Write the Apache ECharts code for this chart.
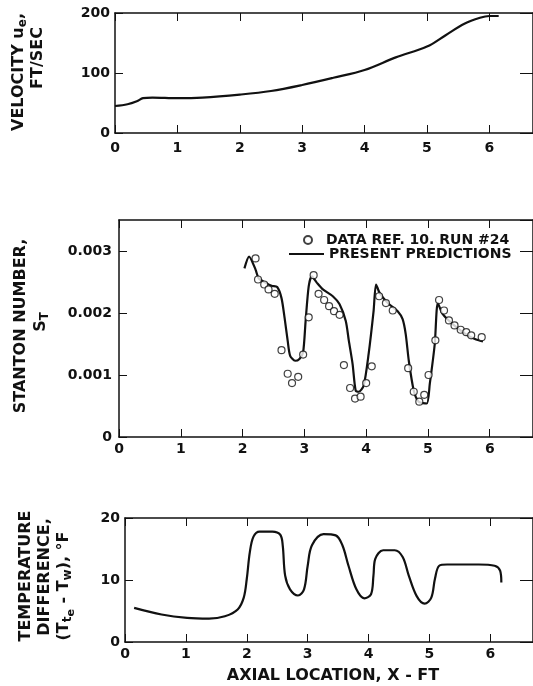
<!DOCTYPE html>
<html><head><meta charset="utf-8">
<script src="https://cdn.jsdelivr.net/npm/echarts@6/dist/echarts.min.js"></script>
<style>html,body{margin:0;padding:0;background:#fff}#c{width:533px;height:686px}</style>
</head><body><div id="c"></div>
<script>
// ---- data ----
const xTicks = [0, 1, 2, 3, 4, 5, 6];
const velX = [0, 0.2, 0.35, 0.45, 0.6, 1.0, 1.4, 2.0, 2.5, 3.0, 3.5, 4.0, 4.5, 5.0, 5.3, 5.6, 5.85, 6.0, 6.15];
const velY = [45, 48, 53, 58, 59, 58, 59, 64, 70, 80, 92, 105, 126, 144, 163, 182, 192, 195, 195];

const predX = [2.03, 2.105, 2.21, 2.26, 2.37, 2.47, 2.56, 2.63, 2.68, 2.73, 2.77, 2.85, 2.92, 2.98, 3.02, 3.07, 3.12, 3.20, 3.30, 3.46, 3.57, 3.67, 3.72, 3.78, 3.83, 3.88, 3.96, 4.04, 4.12, 4.16, 4.22, 4.35, 4.51, 4.59, 4.64, 4.69, 4.77, 4.85, 4.98, 5.03, 5.11, 5.16, 5.24, 5.40, 5.61, 5.76, 5.89];
const predY = [0.00272, 0.00291, 0.00270, 0.00256, 0.00249, 0.00244, 0.00242, 0.00224, 0.00192, 0.00155, 0.00131, 0.00123, 0.00126, 0.00137, 0.00187, 0.00243, 0.00259, 0.00249, 0.00238, 0.00227, 0.00214, 0.00187, 0.00155, 0.00118, 0.00075, 0.00073, 0.00083, 0.00134, 0.00203, 0.00246, 0.00232, 0.00216, 0.00203, 0.00190, 0.00166, 0.00123, 0.00075, 0.00057, 0.00054, 0.00086, 0.00150, 0.00216, 0.00198, 0.00182, 0.00166, 0.00158, 0.00154];

const dataX = [2.21, 2.25, 2.35, 2.42, 2.52, 2.63, 2.73, 2.80, 2.90, 2.98, 3.07, 3.15, 3.23, 3.32, 3.40, 3.48, 3.57, 3.64, 3.74, 3.82, 3.91, 4.00, 4.09, 4.21, 4.32, 4.43, 4.68, 4.77, 4.86, 4.94, 5.01, 5.12, 5.18, 5.26, 5.34, 5.43, 5.53, 5.62, 5.70, 5.87];
const dataY = [0.00288, 0.00254, 0.00246, 0.00238, 0.00231, 0.00140, 0.00102, 0.00087, 0.00097, 0.00133, 0.00193, 0.00261, 0.00231, 0.00221, 0.00211, 0.00203, 0.00197, 0.00116, 0.00079, 0.00062, 0.00065, 0.00087, 0.00114, 0.00227, 0.00216, 0.00204, 0.00111, 0.00073, 0.00057, 0.00068, 0.00100, 0.00156, 0.00221, 0.00204, 0.00188, 0.00180, 0.00173, 0.00169, 0.00164, 0.00161];

const tempX = [0.15, 0.60, 1.02, 1.38, 1.64, 1.85, 1.95, 2.0, 2.05, 2.11, 2.21, 2.42, 2.55, 2.59, 2.63, 2.71, 2.84, 2.94, 3.0, 3.07, 3.26, 3.46, 3.57, 3.67, 3.80, 3.93, 4.04, 4.08, 4.11, 4.24, 4.43, 4.56, 4.66, 4.79, 4.92, 5.03, 5.09, 5.16, 5.29, 5.81, 6.07, 6.16, 6.18];
const tempY = [5.5, 4.43, 3.88, 3.77, 4.15, 5.25, 7.16, 10.2, 14.5, 17.0, 17.8, 17.8, 17.3, 15.6, 10.7, 8.5, 7.5, 8.5, 12.3, 15.6, 17.4, 17.2, 15.6, 12.3, 8.5, 7.05, 7.7, 10.7, 13.4, 14.8, 14.8, 13.7, 10.7, 7.4, 6.18, 7.16, 10.2, 12.3, 12.5, 12.5, 12.3, 11.5, 9.6];

const velTicks = [0, 100, 200];
const stTicks = [0, 0.001, 0.002, 0.003];
const tempTicks = [0, 10, 20];
const seriesNames = ['DATA REF. 10. RUN #24', 'PRESENT PREDICTIONS'];

// ---- chart ----
const ink = '#111';
const FONT = '"DejaVu Sans", sans-serif';
const zip = (a, b) => a.map((v, i) => [v, b[i]]);
const XMAX = 6.7;

const grids = [
  {left: 115, top: 13, width: XMAX * 62.6, height: 120},
  {left: 119, top: 220, width: XMAX * 63.8, height: 217},
  {left: 125, top: 518, width: XMAX * 64, height: 124}
];

const xAxes = [], yAxes = [];
const yCfg = [
  {max: 200, interval: 100, margin: 5},
  {max: 0.0035, interval: 0.001, margin: 7},
  {max: 20, interval: 10, margin: 5}
];
const xMargins = [8, 5, 5];
grids.forEach((g, i) => {
  xAxes.push({
    type: 'value', gridIndex: i, min: 0, max: XMAX, interval: 1, position: 'bottom',
    axisLine: {show: true, onZero: false, lineStyle: {color: ink, width: 1.5}},
    axisTick: {inside: true, length: 8, lineStyle: {color: ink, width: 1}},
    axisLabel: {color: ink, fontFamily: FONT, fontWeight: 'bold', fontSize: 14, margin: xMargins[i], showMaxLabel: false},
    splitLine: {show: false}
  });
  xAxes.push({
    type: 'value', gridIndex: i, min: 0, max: XMAX, interval: 1, position: 'top',
    axisLine: {show: true, onZero: false, lineStyle: {color: ink, width: 1.5}},
    axisTick: {inside: true, length: 8, lineStyle: {color: ink, width: 1}},
    axisLabel: {show: false}, splitLine: {show: false}
  });
  yAxes.push({
    type: 'value', gridIndex: i, min: 0, max: yCfg[i].max, interval: yCfg[i].interval, position: 'left',
    axisLine: {show: true, onZero: false, lineStyle: {color: ink, width: 1.5}},
    axisTick: {inside: true, length: 8, lineStyle: {color: ink, width: 1}},
    axisLabel: {color: ink, fontFamily: FONT, fontWeight: 'bold', fontSize: 14, margin: yCfg[i].margin, showMaxLabel: i !== 1},
    splitLine: {show: false}
  });
  yAxes.push({
    type: 'value', gridIndex: i, min: 0, max: yCfg[i].max, interval: yCfg[i].interval, position: 'right',
    axisLine: {show: true, onZero: false, lineStyle: {color: ink, width: 1.5}},
    axisTick: {inside: true, length: 13, lineStyle: {color: ink, width: 1}},
    axisLabel: {show: false}, splitLine: {show: false}
  });
});

const lineBase = {type: 'line', showSymbol: false, symbol: 'none', smooth: 0.35, legendIcon: 'rect',
  lineStyle: {color: ink, width: 2.2}, itemStyle: {color: ink}, silent: true, animation: false};

const labelFont = 'bold 16px ' + FONT;
const rich = {
  a: {fontFamily: FONT, fontWeight: 'bold', fontSize: 16, fill: ink, color: ink},
  s: {fontFamily: FONT, fontWeight: 'bold', fontSize: 12, fill: ink, color: ink, padding: [8, 0, 0, 0]},
  ss: {fontFamily: FONT, fontWeight: 'bold', fontSize: 11, fill: ink, color: ink, padding: [14, 0, 0, 0]}
};
function vtext(x, y, text) {
  return {type: 'text', x: x, y: y, rotation: Math.PI / 2, silent: true,
    style: {text: text, rich: rich, align: 'center', verticalAlign: 'middle', fill: ink, font: labelFont}};
}

const option = {
  backgroundColor: '#fff',
  animation: false,
  grid: grids.map(g => Object.assign({show: false}, g)),
  xAxis: xAxes,
  yAxis: yAxes,
  legend: [
    {data: [seriesNames[0]], left: 303, top: 233, padding: 0, itemWidth: 8, itemHeight: 8,
      textStyle: {color: ink, fontFamily: FONT, fontWeight: 'bold', fontSize: 14, padding: [0, 0, 0, 9]}, selectedMode: false},
    {data: [seriesNames[1]], left: 288, top: 247, padding: 0, itemWidth: 35, itemHeight: 2,
      textStyle: {color: ink, fontFamily: FONT, fontWeight: 'bold', fontSize: 14}, selectedMode: false}
  ],
  series: [
    Object.assign({}, lineBase, {name: 'velocity', xAxisIndex: 0, yAxisIndex: 0, data: zip(velX, velY)}),
    {name: seriesNames[0], type: 'scatter', xAxisIndex: 2, yAxisIndex: 2, data: zip(dataX, dataY),
      symbol: 'circle', symbolSize: 7, itemStyle: {color: '#fff', borderColor: ink, borderWidth: 1.2}, silent: true, z: 3},
    Object.assign({}, lineBase, {name: seriesNames[1], xAxisIndex: 2, yAxisIndex: 2, data: zip(predX, predY), smooth: 0.25, z: 2}),
    Object.assign({}, lineBase, {name: 'temperature', xAxisIndex: 4, yAxisIndex: 4, data: zip(tempX, tempY)})
  ],
  graphic: [
    vtext(19, 72, '{a|VELOCITY u}{s|e}{a|,}'),
    vtext(38, 58, '{a|FT/SEC}'),
    vtext(21, 326, '{a|STANTON NUMBER,}'),
    vtext(41, 322, '{a|S}{s|T}'),
    vtext(26, 576, '{a|TEMPERATURE}'),
    vtext(45, 577, '{a|DIFFERENCE,}'),
    vtext(64, 586, '{a|(T}{s|t}{ss|e}{a| - T}{s|w}{a|), °F}'),
    {type: 'text', x: 333, y: 676, silent: true,
      style: {text: 'AXIAL LOCATION, X - FT', font: 'bold 16px ' + FONT, fill: ink, align: 'center', verticalAlign: 'middle'}}
  ]
};
const chart = echarts.init(document.getElementById('c'), null, {renderer: 'canvas'});
chart.setOption(option);
</script></body></html>
